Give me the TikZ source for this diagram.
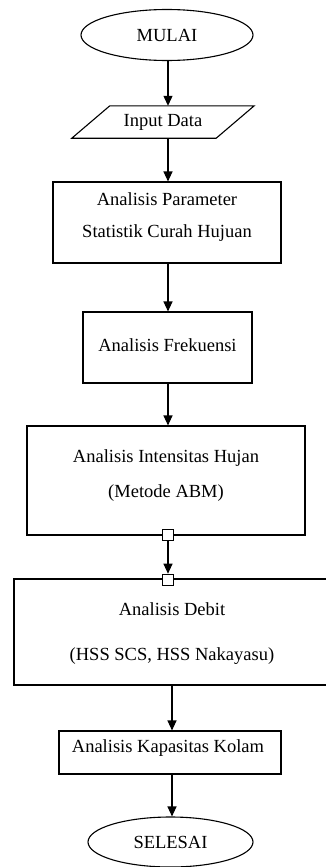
\documentclass[tikz,border=0pt]{standalone}
\usepackage{fontspec}
\setmainfont{Liberation Serif}
\usetikzlibrary{shapes.geometric,arrows.meta,calc}
\begin{document}
\begin{tikzpicture}[x=1pt,y=-1pt,
  every node/.style={font=\fontsize{18.5}{22.5}\selectfont},
  term/.style={draw,line width=1.1pt,ellipse,inner sep=0pt},
  procbox/.style={draw,line width=1.1pt,rectangle,inner sep=0pt},
  txt/.style={align=center,inner sep=0pt},
  handle/.style={draw,line width=0.6pt,fill=white,rectangle,minimum size=11pt,inner sep=0pt},
  arr/.style={line width=1.1pt,-{Triangle[length=10pt,width=9pt]}}
]
\clip (0,0) rectangle (326,867);
\useasboundingbox (0,0) rectangle (326,867);
\node[term,minimum width=172pt,minimum height=51pt] (mulai) at (167,35) {MULAI};
% input parallelogram
\node[minimum width=144pt,minimum height=32pt,inner sep=0pt] (input) at (163,122) {Input Data};
\draw[line width=1.1pt] ($(input.north west)+(19,0)$) -- ($(input.north east)+(19,0)$)
  -- ($(input.south east)+(-19,0)$) -- ($(input.south west)+(-19,0)$) -- cycle;
\node[procbox,minimum width=228pt,minimum height=81pt] (b1) at (167,222.5) {};
\node[txt] (t1) at (167,217) {Analisis Parameter\\[9.5pt]Statistik Curah Hujuan};
\node[procbox,minimum width=169pt,minimum height=71pt] (b2) at (167.5,347.5) {};
\node[txt] (t2) at (167.5,345) {Analisis Frekuensi};
\node[procbox,minimum width=278pt,minimum height=109pt] (b3) at (166,480.5) {};
\node[txt] (t3) at (166,475.5) {Analisis Intensitas Hujan\\[12pt](Metode ABM)};
\node[procbox,minimum width=320pt,minimum height=106pt] (b4) at (174,632) {};
\node[txt] (t4) at (172,633.5) {Analisis Debit\\[22pt](HSS SCS, HSS Nakayasu)};
\node[procbox,minimum width=222pt,minimum height=43pt] (b5) at (170,752.5) {};
\node[txt] (t5) at (168,748) {Analisis Kapasitas Kolam};
\node[term,minimum width=165pt,minimum height=50pt] (selesai) at (170.5,842) {SELESAI};
\node[handle] (h1) at (168,535) {};
\node[handle] (h2) at (168,579.5) {};
\coordinate (a1) at (168,0);
\draw[arr] (mulai.south -| a1) -- (a1 |- input.north);
\draw[arr] (input.south -| a1) -- (a1 |- b1.north);
\draw[arr] (b1.south -| a1) -- (a1 |- b2.north);
\draw[arr] (b2.south -| a1) -- (a1 |- b3.north);
\draw[arr] (h1.south) -- (h2.north);
\node[handle] (h3) at (h2) {};
\coordinate (a2) at (172,0);
\draw[arr] (b4.south -| a2) -- (a2 |- b5.north);
\draw[arr] (b5.south -| a2) -- (a2 |- selesai.north);
\end{tikzpicture}
\end{document}
